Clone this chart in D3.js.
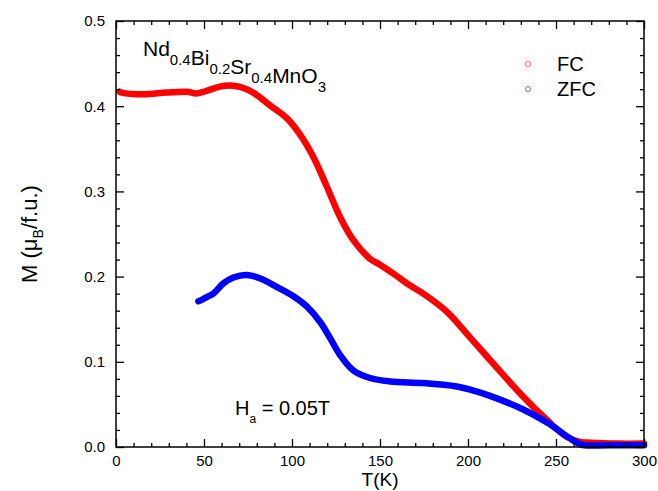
<!DOCTYPE html>
<html>
<head>
<meta charset="utf-8">
<script src="https://cdn.jsdelivr.net/npm/d3@7"></script>
<style>
  html, body { margin: 0; padding: 0; background: #fff; }
  svg { display: block; }
  text { font-family: Arial, "Liberation Sans", sans-serif; fill: #000; }
</style>
</head>
<body>
<script>
// ---- data ----
const T_FC = [2, 3.2, 15.5, 28.8, 40.2, 45.8, 51.5, 59, 66.7, 74.3, 80, 87.5, 97, 104.5, 112, 119.7, 127.3, 134.8, 144.3, 150, 158, 166, 174.6, 187.9, 201, 216, 231.4, 244.7, 256, 263.6, 270, 285, 300];
const M_FC = [0.417, 0.416, 0.414, 0.416, 0.417, 0.415, 0.418, 0.423, 0.424, 0.420, 0.413, 0.401, 0.386, 0.367, 0.341, 0.306, 0.270, 0.243, 0.221, 0.214, 0.203, 0.191, 0.180, 0.159, 0.129, 0.094, 0.059, 0.032, 0.012, 0.006, 0.005, 0.004, 0.004];
const T_ZFC = [46.8, 49, 51.5, 55.3, 61, 66.7, 74.3, 81.8, 91.3, 100.8, 108.4, 115.9, 121.6, 127.3, 134.8, 144.3, 155.7, 174.6, 193.6, 201.7, 212.5, 231.4, 244.7, 257.4, 263, 266, 280, 300];
const M_ZFC = [0.171, 0.173, 0.176, 0.180, 0.192, 0.199, 0.202, 0.198, 0.188, 0.177, 0.165, 0.147, 0.128, 0.108, 0.090, 0.081, 0.077, 0.075, 0.071, 0.067, 0.060, 0.044, 0.029, 0.011, 0.004, 0.002, 0.002, 0.002];
const xTicks = [0, 50, 100, 150, 200, 250, 300];
const yTicks = [0.0, 0.1, 0.2, 0.3, 0.4, 0.5];
const seriesNames = ["FC", "ZFC"];
const seriesColors = ["#ff0000", "#0000ff"];

// ---- layout ----
const W = 658, H = 491;
const L = 116, R = 644, TOP = 21, B = 447;

const svg = d3.select("body").append("svg").attr("width", W).attr("height", H);

const x = d3.scaleLinear().domain([0, 300]).range([L, R]);
const y = d3.scaleLinear().domain([0, 0.5]).range([B, TOP]);

const minorX = d3.range(0, 301, 10).filter(v => v % 50 !== 0);
const minorY = d3.range(0, 26, 1).map(v => v * 0.02).filter(v => Math.round(v * 100) % 10 !== 0);

// ---- data curves ----
const line = d3.line().x(d => x(d[0])).y(d => y(d[1])).curve(d3.curveCatmullRom.alpha(0.5));
const fc = T_FC.map((t, i) => [t, M_FC[i]]);
const zfc = T_ZFC.map((t, i) => [t, M_ZFC[i]]);
const plot = svg.append("g");
[fc, zfc].forEach((d, i) => {
  plot.append("path").datum(d).attr("d", line)
    .attr("fill", "none").attr("stroke", seriesColors[i])
    .attr("stroke-width", 6.5).attr("stroke-linecap", "round").attr("stroke-linejoin", "round");
});

// ---- axes ----
function styleAxis(g) {
  g.select(".domain").remove();
  g.selectAll("line").attr("stroke", "#000").attr("stroke-width", 1.3);
  g.selectAll("text").style("font-size", "15px").attr("fill", "#000");
}
svg.append("g").attr("transform", `translate(0,${B})`)
  .call(d3.axisBottom(x).tickValues(xTicks).tickSize(-8).tickPadding(8).tickFormat(d3.format("d")))
  .call(styleAxis);
svg.append("g").attr("transform", `translate(0,${B})`)
  .call(d3.axisBottom(x).tickValues(minorX).tickSize(-4).tickFormat(""))
  .call(styleAxis);
svg.append("g").attr("transform", `translate(0,${TOP})`)
  .call(d3.axisTop(x).tickValues(xTicks).tickSize(-8).tickFormat(""))
  .call(styleAxis);
svg.append("g").attr("transform", `translate(0,${TOP})`)
  .call(d3.axisTop(x).tickValues(minorX).tickSize(-4).tickFormat(""))
  .call(styleAxis);
svg.append("g").attr("transform", `translate(${L},0)`)
  .call(d3.axisLeft(y).tickValues(yTicks).tickSize(-8).tickPadding(11).tickFormat(d3.format(".1f")))
  .call(styleAxis);
svg.append("g").attr("transform", `translate(${L},0)`)
  .call(d3.axisLeft(y).tickValues(minorY).tickSize(-4).tickFormat(""))
  .call(styleAxis);
svg.append("g").attr("transform", `translate(${R},0)`)
  .call(d3.axisRight(y).tickValues(yTicks).tickSize(-8).tickFormat(""))
  .call(styleAxis);
svg.append("g").attr("transform", `translate(${R},0)`)
  .call(d3.axisRight(y).tickValues(minorY).tickSize(-4).tickFormat(""))
  .call(styleAxis);

svg.append("rect").attr("x", L).attr("y", TOP).attr("width", R - L).attr("height", B - TOP)
  .attr("fill", "none").attr("stroke", "#000").attr("stroke-width", 1.5);

// ---- axis titles ----
svg.append("text").attr("x", (L + R) / 2).attr("y", 486).attr("text-anchor", "middle")
  .style("font-size", "19px").text("T(K)");

const yt = svg.append("text").attr("transform", `translate(37,${(TOP + B) / 2}) rotate(-90)`)
  .attr("text-anchor", "middle").style("font-size", "22px");
yt.append("tspan").text("M (μ");
yt.append("tspan").attr("dy", 6).style("font-size", "14px").text("B");
yt.append("tspan").attr("dy", -6).text("/f.u.)");

// ---- compound label ----
const tl = svg.append("text").attr("x", 143).attr("y", 56).style("font-size", "21px");
[["Nd", "0.4"], ["Bi", "0.2"], ["Sr", "0.4"], ["MnO", "3"]].forEach(([el, sub]) => {
  tl.append("tspan").attr("dy", 0).text(el);
  tl.append("tspan").attr("dy", 9).style("font-size", "15px").text(sub);
  tl.append("tspan").attr("dy", -9).text("");
});

// ---- field label ----
const hl = svg.append("text").attr("x", 235).attr("y", 415).style("font-size", "20px");
hl.append("tspan").text("H");
hl.append("tspan").attr("dy", 8).style("font-size", "12px").text("a");
hl.append("tspan").attr("dy", -8).text(" = 0.05T");

// ---- legend ----
seriesNames.forEach((n, i) => {
  const yy = 64 + i * 25;
  svg.append("circle").attr("cx", 528).attr("cy", yy).attr("r", 2.5)
    .attr("fill", "none").attr("stroke", seriesColors[i]).attr("stroke-opacity", 0.6).attr("stroke-width", 1);
  svg.append("text").attr("x", 557).attr("y", yy + 7).style("font-size", "20px").text(n);
});
</script>
</body>
</html>
